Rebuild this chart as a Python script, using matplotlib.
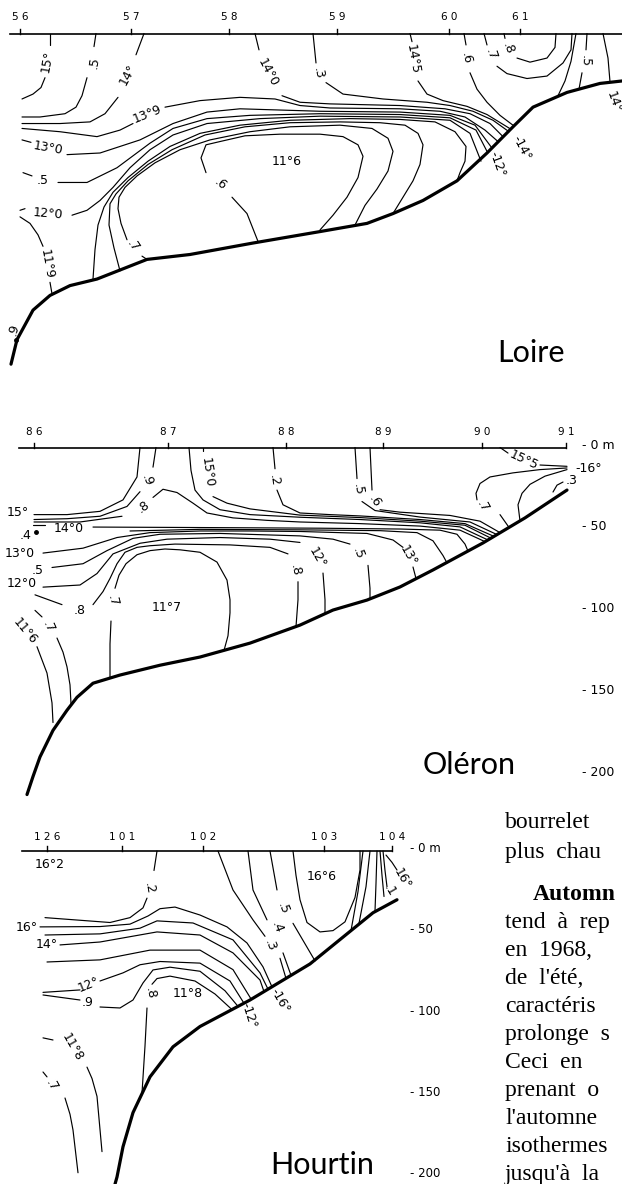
import matplotlib
matplotlib.use("Agg")
import matplotlib.pyplot as plt

W, H = 622, 1184

# ---------------- Loire section (x = distance along section, z = depth in m) -------------
loire_stations = ["5 6", "5 7", "5 8", "5 9", "6 0", "6 1"]
loire_station_x = [20, 131, 229, 337, 449, 520]
loire_surface_x = (10, 622)
loire_bottom = [(11, 202), (17, 187), (33, 169), (50, 160), (70, 154), (97, 150), (147, 138),
                (190, 135), (253, 128), (320, 121), (367, 116), (393, 110), (423, 102), (457, 90),
                (487, 73), (513, 57), (533, 45), (567, 36), (600, 30.5), (622, 29)]

l_15a = [(50, 0), (50, 7)]
l_15b = [(45, 27), (41, 33), (33, 37), (22, 40)]
l_145a = [(96, 0), (94, 8)]
l_145b = [(87, 27), (82, 38), (76, 45), (65, 49), (40, 51), (22, 51)]
l_14a = [(144, 0), (136, 13)]
l_14b = [(118, 39), (105, 49), (90, 54), (60, 55), (22, 55)]
l_139a = [(22, 58), (60, 60), (97, 63), (120, 59), (133, 55)]
l_139b = [(165, 45), (200, 41), (240, 39), (275, 40), (300, 44), (330, 45.5), (400, 46),
          (440, 47.5), (465, 51), (485, 59), (498, 66)]
l_140a = [(255, 0), (259, 10)]
l_140b = [(282, 38), (300, 42), (330, 43), (400, 44), (445, 46), (470, 49), (490, 55), (503, 63)]
l_143a = [(313, 0), (316, 18)]
l_143b = [(326, 30), (343, 37), (383, 40), (427, 42), (450, 44), (473, 47.5), (493, 53), (509, 60)]
l_1445a = [(410, 0), (412, 5)]
l_1445b = [(418, 29), (427, 37), (443, 41), (467, 44.5), (487, 49.5), (511, 58.5)]
l_146a = [(464, 0), (466, 7)]
l_146b = [(470, 24), (477, 34), (487, 42), (500, 50), (514, 56.5)]
l_147a = [(484, 0), (487, 7)]
l_147b = [(497, 20), (507, 24.5), (527, 27.5), (547, 26), (563, 18), (571, 10), (572, 0)]
l_148a = [(504, 0), (505, 3)]
l_148b = [(517, 15), (530, 17.5), (547, 15), (555, 8.5), (556, 0)]
l_r1 = [(576, 0), (571, 17), (565, 29), (558, 38)]
l_r2a = [(587, 0), (586, 10)]
l_r2b = [(582, 24), (579, 34)]
l_r3 = [(603, 0), (608, 15), (610, 29.5)]
l_130a = [(22, 65), (31, 66.5)]
l_130b = [(67, 74), (100, 73), (140, 65), (173, 55), (207, 48), (240, 46), (320, 47.5), (400, 48),
          (450, 50), (475, 56), (492, 70)]
l_125a = [(23, 85), (32, 87)]
l_125b = [(58, 91), (87, 91), (117, 82), (150, 67), (173, 58), (207, 52), (250, 50), (320, 49),
          (400, 49.5), (450, 51.5), (476, 59), (487, 72)]
l_120a = [(20, 108), (25, 107)]
l_120b = [(72, 111), (87, 108), (100, 102), (113, 94), (130, 82), (150, 71), (173, 62), (207, 55),
          (260, 52), (320, 50.5), (400, 51), (450, 53), (470, 61), (481, 78)]
l_119a = [(20, 112), (30, 116), (38, 123), (43, 130)]
l_119b = [(50, 152), (52, 159)]
l_9 = [(93, 150), (95, 132), (98, 117), (104, 106), (113, 97), (128, 88), (148, 78), (170, 69),
       (200, 61), (240, 56), (290, 53), (350, 52), (400, 52.5), (435, 54), (455, 60), (466, 69),
       (465, 78), (460, 85), (457, 90)]
l_8 = [(120, 145), (114, 131), (109, 117), (110, 104), (116, 98), (128, 90), (148, 80), (172, 71),
       (205, 62), (245, 57), (290, 54.5), (340, 54), (380, 54.5), (405, 56), (418, 61), (423, 68),
       (420, 80), (413, 90), (403, 100), (393, 110)]
l_7a = [(147, 138), (142, 136)]
l_7b = [(127, 126), (121, 116), (118, 107), (119, 100), (125, 94), (137, 87), (155, 79), (180, 71),
        (210, 65), (250, 60), (290, 57), (340, 56), (372, 58), (388, 64), (393, 72), (388, 84),
        (377, 95), (365, 105), (355, 117)]
l_6a = [(258, 127), (247, 110), (232, 100)]
l_6b = [(206, 85), (201, 76), (206, 68), (220, 66), (245, 62.5), (280, 61.5), (320, 61.5),
        (343, 63), (358, 68), (363, 75), (358, 88), (347, 100), (333, 111), (320, 120)]

loire_lines = [l_15a, l_15b, l_145a, l_145b, l_14a, l_14b, l_139a, l_139b, l_140a, l_140b,
               l_143a, l_143b, l_1445a, l_1445b, l_146a, l_146b, l_147a, l_147b, l_148a, l_148b,
               l_r1, l_r2a, l_r2b, l_r3, l_130a, l_130b, l_125a, l_125b, l_120a, l_120b,
               l_119a, l_119b, l_9, l_8, l_7a, l_7b, l_6a, l_6b]

loire_labels = [("15°", 47, 17, 80), (".5", 94, 18, 80), ("14°", 128, 25, 62), ("13°9", 147, 49, 22),
                ("14°0", 268, 24, -62), (".3", 318, 24, -80), ("14°5", 413, 16, -80),
                (".6", 466, 15, -80), (".7", 491, 13, -70), (".8", 508, 9, -70), (".5", 585, 17, -92),
                ("14°", 614, 42, -70), ("13°0", 48, 70, -10), (".5", 43, 90, 0), ("12°0", 48, 110, -5),
                ("11°9", 47, 141, -80), (".6", 220, 92, -40), (".7", 133, 130, -55),
                ("11°6", 287, 78, 0), (".9", 14, 181, 75), ("-14°", 522, 70, -62),
                ("-12°", 497, 80, -70)]
loire_dots = [(16, 187)]

# ---------------- Oléron section -------------
oleron_stations = ["8 6", "8 7", "8 8", "8 9", "9 0", "9 1"]
oleron_station_x = [34, 168, 286, 383, 482, 566]
oleron_surface_x = (19, 566)
oleron_bottom = [(567, 26), (525, 43), (483, 58.3), (433, 74.8), (400, 85.2), (367, 93.2),
                 (333, 99.3), (300, 108.5), (250, 119.5), (200, 128), (160, 133), (120, 139),
                 (93, 144), (77, 152.6), (67, 160.5), (53, 172.8), (40, 189), (33, 201), (27, 212)]

o_15 = [(140, 0), (137, 18), (123, 32), (100, 39), (67, 41), (34, 41)]
o_9a = [(156, 0), (153, 12)]
o_9b = [(140, 27), (127, 36), (100, 42), (67, 43.5), (34, 44)]
o_8a = [(34, 45.5), (80, 45.5), (122, 42)]
o_8b = [(153, 30.5), (163, 25.5), (177, 27.5), (193, 34), (207, 40), (233, 43), (267, 44.5),
        (300, 45.5), (360, 46.5), (420, 48), (460, 50.5), (485, 57.5)]
o_a = [(189, 0), (191, 14), (195, 26), (203, 32), (220, 38), (250, 41), (300, 42.6), (360, 44),
       (420, 46), (460, 48.5), (488, 56.5)]
o_150a = [(203, 0), (203, 2)]
o_150b = [(213, 30), (227, 34), (250, 37.5), (300, 41.3), (360, 42.8), (420, 45), (465, 47.5),
          (491, 55.4)]
o_2a = [(273, 0), (275, 13)]
o_2b = [(277, 26), (283, 35), (300, 40), (330, 41), (360, 41.8), (420, 44), (465, 46.5), (494, 54.3)]
o_5a = [(355, 0), (357, 19)]
o_5b = [(362, 33), (375, 38.5), (420, 42.5), (470, 45.5), (497, 53.2)]
o_6a = [(370, 0), (372, 26)]
o_6b = [(380, 38), (400, 39.5), (450, 41.5), (480, 45), (500, 52)]
o_140a = [(33, 47.4), (45, 47.4)]
o_140b = [(93, 48.6), (167, 48.8), (233, 49), (320, 49.3), (400, 49.8), (440, 50.5), (457, 53),
          (465, 59), (468, 63.3)]
o_135 = [(130, 51), (200, 50), (300, 50.3), (380, 50.8), (417, 52), (433, 57), (443, 66), (447, 70.5)]
o_130a = [(43, 64.5), (83, 61.5), (117, 55), (150, 52), (200, 51), (250, 51), (300, 51.3),
          (367, 52.5), (393, 56.5), (403, 61)]
o_130b = [(413, 73), (416, 80)]
o_125a = [(52, 73.3), (83, 71), (107, 63), (133, 55.5), (160, 53), (220, 52.5), (300, 54),
          (333, 56), (350, 59)]
o_125b = [(368, 72), (370, 86), (370, 92.5)]
o_120a = [(43, 85.3), (80, 84), (97, 77), (113, 65), (140, 58.5), (167, 56), (220, 55), (270, 56),
          (300, 58)]
o_120b = [(323, 76.7), (325, 93), (325, 101.5)]
o_118a = [(35, 90), (62, 96)]
o_118b = [(93, 96), (103, 88), (110, 80), (117, 71), (125, 64), (137, 61), (150, 60), (175, 59),
          (230, 59.5), (270, 61), (288, 65)]
o_118c = [(298, 82), (298, 93), (296, 109.4)]
o_117a = [(110, 140.5), (110, 120), (111, 106)]
o_117b = [(115, 86), (119, 78), (126, 71), (137, 65.5), (150, 63), (165, 62), (180, 62.5),
          (200, 64), (217, 70), (227, 81), (230, 93), (230, 101), (228, 115), (224, 124)]
o_7la = [(35, 99.5), (42, 103.5)]
o_7lb = [(57, 116.4), (63, 125), (67, 134), (70, 145), (71, 156.5)]
o_116 = [(37, 121.7), (47, 137.8), (52, 156), (53, 168)]
o_155a = [(500, 0), (508, 3.4)]
o_155b = [(540, 10.7), (567, 11.5)]
o_157a = [(567, 12.5), (540, 13.5), (513, 15.5), (490, 18), (480, 22), (476, 28), (477, 32)]
o_157b = [(500, 41), (509, 48.8)]
o_16 = [(520, 44.8), (518, 35), (522, 28), (530, 22.5), (545, 17.5), (567, 13.5)]
o_163 = [(553, 27.2), (557, 23), (563, 21.1)]

oleron_lines = [o_15, o_9a, o_9b, o_8a, o_8b, o_a, o_150a, o_150b, o_2a, o_2b, o_5a, o_5b, o_6a,
                o_6b, o_140a, o_140b, o_135, o_130a, o_130b, o_125a, o_125b, o_120a, o_120b,
                o_118a, o_118b, o_118c, o_117a, o_117b, o_7la, o_7lb, o_116, o_155a, o_155b,
                o_157a, o_157b, o_16, o_163]

oleron_labels = [("15°", 18, 40, 0), (".9", 147, 20, -70), (".8", 144, 36, 35), ("15°0", 207, 15.5, -82),
                 (".2", 274, 20, -82), (".5", 358, 25.4, -82), (".6", 375, 33, -60),
                 ("14°0", 69, 49.2, 0), (".4", 26, 54, 0), ("13°0", 20, 64.5, 0), (".5", 38, 75, 0),
                 ("12°0", 22, 83, 0), (".8", 80, 99.5, 0), (".7", 48, 109.7, -65),
                 ("11°6", 25, 112.5, -50), (".7", 113, 93.5, -75), ("11°7", 167, 98, 0),
                 (".8", 295, 75, -80), ("12°", 317, 67.5, -60), (".5", 358, 64.6, -70),
                 ("13°", 408, 66, -60), ("15°5", 524, 7.6, -25), (".7", 483, 36.2, -60),
                 ("-16°", 589, 13, 0), (".3", 572, 20, 0)]
oleron_dots = [(36, 51.4)]

# ---------------- Hourtin section -------------
hourtin_stations = ["1 2 6", "1 0 1", "1 0 2", "1 0 3", "1 0 4"]
hourtin_station_x = [47, 122, 203, 324, 392]
hourtin_surface_x = (22, 392)
hourtin_bottom = [(397, 30), (373, 38), (343, 53), (310, 69.5), (250, 91.7), (200, 108),
                  (173, 120.5), (150, 139), (133, 161), (123, 182), (117, 200.6), (115, 205)]

h_2a = [(157, 0), (154, 12)]
h_2b = [(147, 29), (143, 35), (130, 41), (110, 44), (45, 41)]
h_16 = [(40, 46.7), (100, 46.5), (130, 45), (148, 40), (160, 35.5), (175, 34.5), (200, 39.4),
        (227, 46.7), (247, 56.6), (263, 71.3), (272, 83.6)]
h_15 = [(45, 51.7), (100, 51), (140, 47.5), (157, 43), (193, 44.3), (233, 54.7), (260, 75), (268, 85)]
h_14 = [(60, 57.8), (100, 56), (157, 49.8), (200, 51.7), (233, 62.7), (260, 79.4), (264, 86.5)]
h_13 = [(47, 68.3), (100, 67), (150, 61), (200, 61), (233, 73), (251, 91)]
h_12a = [(43, 87), (80, 85.5)]
h_12b = [(100, 80), (123, 75), (140, 70), (160, 68), (200, 69), (230, 80), (244, 93.7)]
h_9a = [(43, 88.6), (80, 91.7)]
h_9b = [(100, 96), (120, 96.6), (133, 91.7), (143, 81.2), (153, 73.2), (170, 71.5), (200, 74),
        (225, 86), (238, 95.6)]
h_8a = [(232, 97.6), (215, 88), (195, 80), (170, 77), (157, 78.5), (152, 82)]
h_8b = [(147, 96.6), (145, 120), (142, 149)]
h_118a = [(43, 115), (53, 116.3)]
h_118b = [(87, 133), (92, 140), (97, 151), (102, 185)]
h_7a = [(43, 136), (47, 139)]
h_7b = [(65, 152), (70, 162), (73, 171.7), (78, 198)]
h_3a = [(218, 0), (233, 24), (253, 42.4), (265, 52.5)]
h_3b = [(280, 66), (286, 78.4)]
h_4a = [(248, 0), (253, 24), (267, 42.4)]
h_4b = [(283, 62.7), (291, 76.5)]
h_5a = [(270, 0), (277, 24)]
h_5b = [(293, 44.5), (315, 67.6)]
h_166 = [(293, 0), (296, 15), (300, 30), (307, 44), (320, 49.8), (333, 49), (345, 43.6),
         (355, 28.6), (360, 11.7), (360, 0)]
h_r1 = [(363, 0), (358, 25), (351, 49)]
h_r2 = [(370, 0), (366, 22), (359, 44.5)]
h_r3 = [(377, 0), (376, 20), (375, 37)]
h_r4 = [(380, 0), (382, 15), (384, 28)]
h_r5 = [(383, 0), (385, 12), (387, 22)]
h_r6 = [(386, 2.5), (392, 7), (397, 11.7)]

hourtin_lines = [h_2a, h_2b, h_16, h_15, h_14, h_13, h_12a, h_12b, h_9a, h_9b, h_8a, h_8b,
                 h_118a, h_118b, h_7a, h_7b, h_3a, h_3b, h_4a, h_4b, h_5a, h_5b, h_166,
                 h_r1, h_r2, h_r3, h_r4, h_r5, h_r6]

hourtin_labels = [("16°2", 50, 8.6, 0), (".2", 149, 22.8, -80), ("16°", 27, 46.8, 0),
                  ("14°", 47, 57.5, 0), ("12°", 89, 82.5, 22), (".9", 88, 93.5, 0),
                  (".8", 150, 87.4, -80), ("11°8", 188, 87.6, 0), ("11°8", 72, 121, -60),
                  (".7", 52, 144, -60), (".3", 270, 58, -70), (".4", 277, 46.7, -70),
                  (".5", 283, 35.5, -70), ("16°6", 322, 16, 0), ("16°", 402, 17, -60),
                  (".1", 390, 24, -60), ("-16°", 280, 92, -60), ("-12°", 249, 101, -72)]

depth_ticks = [0, 50, 100, 150, 200]
depth_texts = ["- 0 m", "- 50", "- 100", "- 150", "- 200"]

body_lines = ["bourrelet", "plus  chau", "Automn", "tend  à  rep", "en  1968,", "de  l'été,",
              "caractéris", "prolonge  s", "Ceci  en", "prenant  o", "l'automne", "isothermes",
              "jusqu'à  la"]
body_bold = [False, False, True, False, False, False, False, False, False, False, False, False, False]
body_indent = [0, 0, 28, 0, 0, 0, 0, 0, 0, 0, 0, 0, 0]
body_baseline = [828, 858, 900, 928, 956, 984, 1012, 1040, 1068, 1096, 1124, 1152, 1180]


fig = plt.figure(figsize=(W / 100, H / 100), dpi=100)
fig.patch.set_facecolor("white")


def panel(top, bottom, y0, s):
    # one axes per section: x in plate units, y in metres (downward)
    ax = fig.add_axes([0, 1 - bottom / H, 1, (bottom - top) / H])
    ax.set_xlim(0, W)
    ax.set_ylim((bottom - y0) / s, (top - y0) / s)
    ax.axis("off")
    return ax


def draw(ax, surface, st_x, st_lab, bottom, lines, labels, dots, lab_z):
    ax.plot(surface, [0, 0], color="black", lw=1.2)
    for x, s in zip(st_x, st_lab):
        ax.plot([x, x], [0, -2.8], color="black", lw=1.0)
        ax.text(x, lab_z, s, fontsize=7.5, ha="center", va="center")
    bx, bz = zip(*bottom)
    ax.plot(bx, bz, color="black", lw=2.3, solid_capstyle="round")
    for pts in lines:
        x, z = zip(*pts)
        ax.plot(x, z, color="black", lw=0.85, solid_capstyle="round", solid_joinstyle="round")
    for s, x, z, r in labels:
        ax.text(x, z, s, fontsize=9, rotation=r, ha="center", va="center",
                rotation_mode="anchor")
    for x, z in dots:
        ax.plot(x, z, "o", color="black", ms=2.5)


title_kw = dict(fontsize=22, family="Lato", fontweight="normal", color="black", va="center")

ax1 = panel(0, 390, 33.5, 1.637)
draw(ax1, loire_surface_x, loire_station_x, loire_stations, loire_bottom, loire_lines,
     loire_labels, loire_dots, -10)
ax1.text(497, 195, "Loire", **title_kw)

ax2 = panel(390, 800, 447.5, 1.637)
draw(ax2, oleron_surface_x, oleron_station_x, oleron_stations, oleron_bottom, oleron_lines,
     oleron_labels, oleron_dots, -9.5)
ax2.text(423, 194, "Oléron", **title_kw)
for d, s in zip(depth_ticks, depth_texts):
    ax2.text(582, d - 1.5, s, fontsize=9, ha="left", va="center")

ax3 = panel(800, 1184, 851, 1.625)
draw(ax3, hourtin_surface_x, hourtin_station_x, hourtin_stations, hourtin_bottom, hourtin_lines,
     hourtin_labels, [], -8.6)
ax3.text(270, 193, "Hourtin", **title_kw)
for d, s in zip(depth_ticks, depth_texts):
    ax3.text(410, d - 1.5, s, fontsize=8.5, ha="left", va="center")

for s, b, ind, y in zip(body_lines, body_bold, body_indent, body_baseline):
    fig.text((505 + ind) / W, 1 - y / H, s, fontsize=17, family="Liberation Serif",
             fontweight="bold" if b else "normal", va="baseline", ha="left")

fig.savefig("out.png", dpi=100, facecolor="white")
